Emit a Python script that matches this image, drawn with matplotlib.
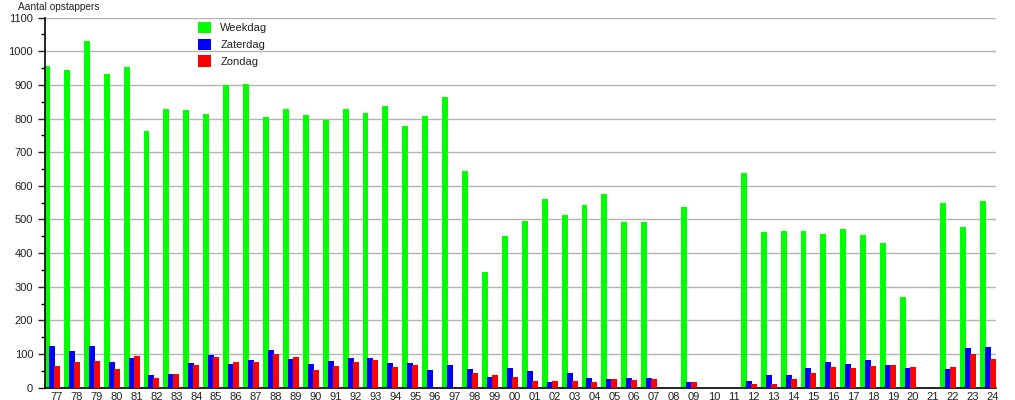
import numpy as np
import matplotlib
matplotlib.use('Agg')
import matplotlib.pyplot as plt
from matplotlib.ticker import MultipleLocator

plt.rcParams['font.family'] = ['Liberation Sans', 'DejaVu Sans']

years = ['77','78','79','80','81','82','83','84','85','86','87','88','89','90','91','92',
         '93','94','95','96','97','98','99','00','01','02','03','04','05','06','07','08',
         '09','10','11','12','13','14','15','16','17','18','19','20','21','22','23','24']
weekdag = [955,945,1030,932,953,762,828,825,813,899,902,804,828,810,795,828,
           816,837,777,807,864,643,344,450,495,560,513,543,575,492,492,0,
           537,0,0,639,463,466,466,457,472,454,430,269,0,549,477,555]
zaterdag = [123,110,123,75,87,36,40,72,96,69,81,113,84,69,78,87,
            87,72,72,51,66,54,33,57,48,18,42,30,27,30,30,0,
            18,0,0,21,36,36,57,75,69,81,66,57,0,54,117,120]
zondag = [63,75,80,54,93,30,40,66,90,75,75,101,90,51,63,75,
          81,60,66,0,0,42,36,33,21,21,21,18,27,24,27,0,
          18,0,0,12,12,27,42,60,57,63,66,60,0,60,99,84]

x = np.arange(len(years))
w = 0.3

fig = plt.figure(figsize=(10.15, 4.0), dpi=100)
ax = fig.add_axes([0.0443, 0.031, 0.9370, 0.925])

ax.bar(x - 0.5, weekdag, width=w, color='#00ff00', label='Weekdag', zorder=2)
ax.bar(x - 0.25, zaterdag, width=w, color='#0000ff', label='Zaterdag', zorder=3)
ax.bar(x, zondag, width=w, color='#ff0000', label='Zondag', zorder=4)

ax.set_xlim(-0.6, 47.17)
ax.set_ylim(0, 1100)
ax.yaxis.set_major_locator(MultipleLocator(100))
ax.yaxis.set_minor_locator(MultipleLocator(50))
ax.set_xticks(x)
ax.set_xticklabels(years)
ax.tick_params(axis='x', length=0, pad=3, labelsize=8, colors='#222222')
ax.tick_params(axis='y', which='major', length=5, width=1, labelsize=8, colors='#222222')
ax.tick_params(axis='y', which='minor', length=3, width=1)
ax.yaxis.grid(True, color='#b4b4b4', linewidth=1, zorder=0)
ax.set_axisbelow(True)
for s in ['top', 'right']:
    ax.spines[s].set_visible(False)
for s in ['left', 'bottom']:
    ax.spines[s].set_color('black')
    ax.spines[s].set_linewidth(1.2)

# title sits above the 1100 label, top-left
fig.text(18 / 1015, (400 - 10.5) / 400, 'Aantal opstappers', fontsize=7.3,
         color='#222222', va='baseline', ha='left')

leg = ax.legend(loc='upper left', bbox_to_anchor=(0.195, 0.945), bbox_transform=fig.transFigure,
                frameon=False, fontsize=8, handlelength=1.2, handleheight=1.2,
                labelspacing=0.47, handletextpad=0.8, borderaxespad=0, borderpad=0)
for t in leg.get_texts():
    t.set_color('#222222')

fig.savefig('out.png', dpi=100)
